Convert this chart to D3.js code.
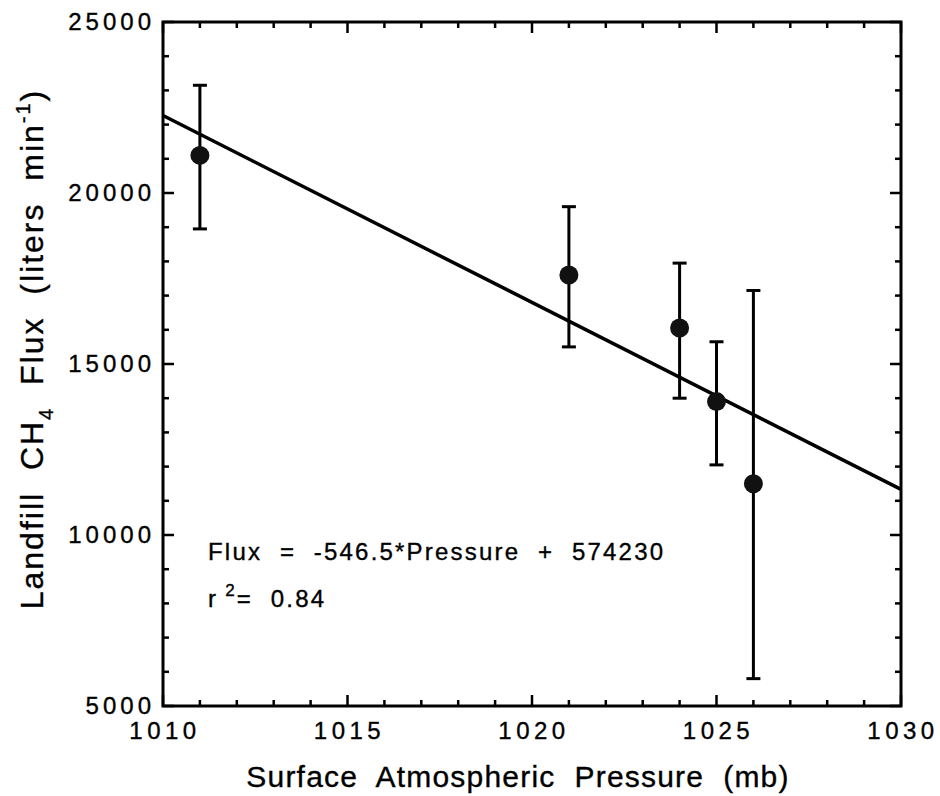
<!DOCTYPE html>
<html><head><meta charset="utf-8">
<script src="https://cdn.jsdelivr.net/npm/d3@7"></script>
<style>
body{margin:0;background:#fff;}
text{font-family:"Liberation Sans",Arial,Helvetica,sans-serif;fill:#000;stroke:#000;stroke-width:0.35px;}
</style></head>
<body><svg id="c" width="940" height="796"></svg>
<script>
const pressure = [1011, 1021, 1024, 1025, 1026];
const flux     = [21100, 17600, 16050, 13900, 11500];
const errLow   = [18950, 15500, 14000, 12050, 5800];
const errHigh  = [23150, 19600, 17950, 15650, 17150];
const slope = -546.5, intercept = 574230;
const xTicks = [1010, 1015, 1020, 1025, 1030];
const yTicks = [5000, 10000, 15000, 20000, 25000];
const eqText = "Flux  =  -546.5*Pressure  +  574230";
const r2Text = "0.84";

const svg = d3.select("#c");
const L = 163, R = 901, T = 22, B = 706;
const x = d3.scaleLinear().domain([1010, 1030]).range([L, R]);
const y = d3.scaleLinear().domain([5000, 25000]).range([B, T]);

// minor/major ticks (inward, mirrored)
const g = svg.append("g").attr("stroke", "#000").attr("stroke-width", 2.5);
const xMinor = d3.range(1010, 1031, 1);
const yMinor = d3.range(5000, 25001, 1000);
const tk = maj => maj ? 11 : 6;
xMinor.forEach(v => {
  const maj = v % 5 === 0;
  g.append("line").attr("x1", x(v)).attr("x2", x(v)).attr("y1", B).attr("y2", B - tk(maj));
  g.append("line").attr("x1", x(v)).attr("x2", x(v)).attr("y1", T).attr("y2", T + tk(maj));
});
yMinor.forEach(v => {
  const maj = v % 5000 === 0;
  g.append("line").attr("y1", y(v)).attr("y2", y(v)).attr("x1", L).attr("x2", L + tk(maj));
  g.append("line").attr("y1", y(v)).attr("y2", y(v)).attr("x1", R).attr("x2", R - tk(maj));
});
// frame
svg.append("rect").attr("x", L).attr("y", T).attr("width", R - L).attr("height", B - T)
  .attr("fill", "none").attr("stroke", "#000").attr("stroke-width", 3);

// tick labels
svg.append("g").selectAll("text").data(xTicks).join("text")
  .attr("x", d => x(d) + 2).attr("y", 739).attr("text-anchor", "middle")
  .style("font-size", "24px").style("letter-spacing", "4.5px").text(d => d);
svg.append("g").selectAll("text").data(yTicks).join("text")
  .attr("x", 155).attr("y", d => y(d) + 8).attr("text-anchor", "end")
  .style("font-size", "24px").style("letter-spacing", "4px").text(d => d);

// axis titles
svg.append("text").attr("x", 518).attr("y", 787).attr("text-anchor", "middle")
  .style("font-size", "30px").style("letter-spacing", "1.2px").style("white-space", "pre")
  .text("Surface  Atmospheric  Pressure  (mb)");
const yt = svg.append("text").attr("transform", `translate(43,${349}) rotate(-90)`)
  .attr("text-anchor", "middle").style("font-size", "32px").style("letter-spacing", "2px").style("white-space", "pre");
yt.append("tspan").text("Landfill  CH");
yt.append("tspan").attr("dy", 10).style("font-size", "20px").text("4");
yt.append("tspan").attr("dy", -10).text("  Flux  (liters  min");
yt.append("tspan").attr("dy", -13).style("font-size", "20px").text("-1");
yt.append("tspan").attr("dy", 13).text(")");

// regression line
const dom = x.domain();
svg.append("line").attr("x1", x(dom[0])).attr("y1", y(slope * dom[0] + intercept))
  .attr("x2", x(dom[1])).attr("y2", y(slope * dom[1] + intercept))
  .attr("stroke", "#000").attr("stroke-width", 3.5);

// error bars
const eb = svg.append("g").attr("stroke", "#000").attr("stroke-width", 3);
pressure.forEach((p, i) => {
  eb.append("line").attr("x1", x(p)).attr("x2", x(p)).attr("y1", y(errLow[i])).attr("y2", y(errHigh[i]));
  [errLow[i], errHigh[i]].forEach(v => eb.append("line").attr("x1", x(p) - 7).attr("x2", x(p) + 7).attr("y1", y(v)).attr("y2", y(v)));
});
svg.append("g").selectAll("circle").data(pressure).join("circle")
  .attr("cx", d => x(d)).attr("cy", (d, i) => y(flux[i])).attr("r", 9.5).attr("fill", "#111");

// annotation
svg.append("text").attr("x", 208).attr("y", 560).style("font-size", "24px").style("white-space", "pre").style("letter-spacing", "2.2px").text(eqText);
const r2 = svg.append("text").attr("x", 208).attr("y", 607).style("font-size", "24px").style("white-space", "pre").style("letter-spacing", "2.2px");
r2.append("tspan").text("r");
r2.append("tspan").attr("dy", -11).style("font-size", "17px").text(" 2");
r2.append("tspan").attr("dy", 11).text("=  " + r2Text);
</script></body></html>
